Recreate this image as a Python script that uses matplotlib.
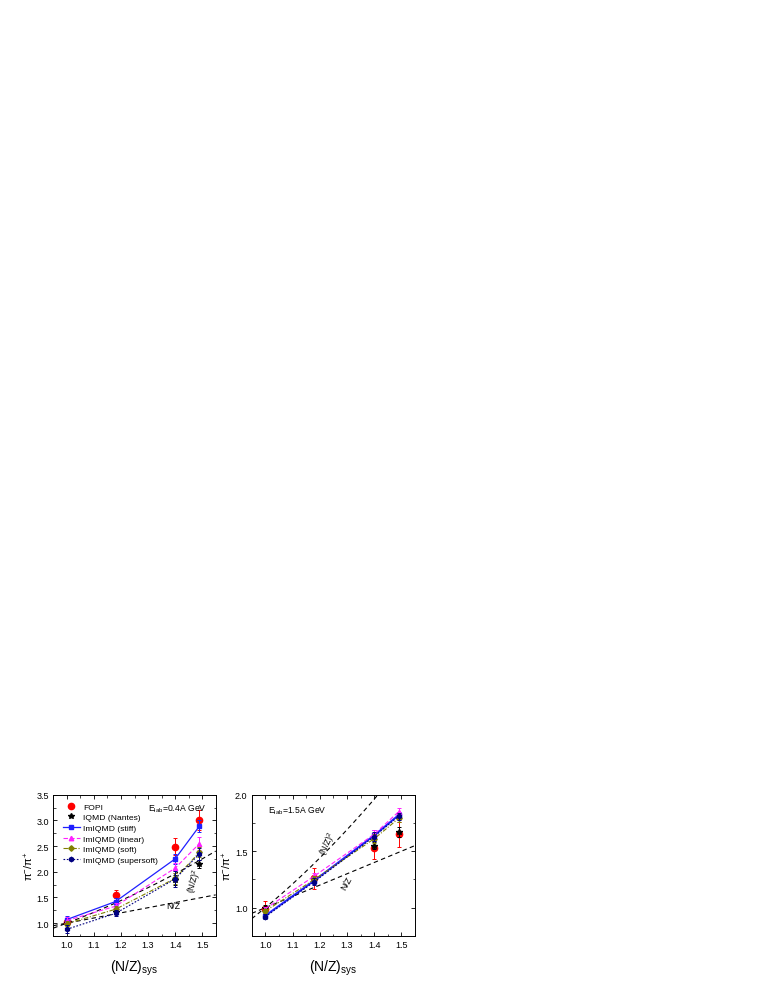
import matplotlib
matplotlib.use("Agg")
import matplotlib.pyplot as plt
import numpy as np
from matplotlib.ticker import MultipleLocator
from matplotlib.lines import Line2D

main_font = 'Liberation Sans'
plt.rcParams['font.family'] = [main_font, 'DejaVu Sans']
plt.rcParams['mathtext.fontset'] = 'custom'
plt.rcParams['mathtext.rm'] = main_font
plt.rcParams['mathtext.it'] = main_font + ':italic'
plt.rcParams['mathtext.default'] = 'regular'

# x positions: (N/Z)_sys of the systems
nz_sys = [1.0, 1.18, 1.4, 1.49]

# ---- E_lab = 0.4A GeV ----
fopi_04 = [1.03, 1.54, 2.49, 3.01]
fopi_04_err = [0.06, 0.10, 0.16, 0.20]
iqmd_04 = [1.00, 1.22, 1.84, 2.15]
iqmd_04_err = [0.04, 0.05, 0.10, 0.08]
stiff_04 = [1.07, 1.42, 2.25, 2.89]
stiff_04_err = [0.06, 0.06, 0.10, 0.12]
linear_04 = [1.05, 1.33, 2.07, 2.55]
linear_04_err = [0.06, 0.06, 0.10, 0.12]
soft_04 = [0.99, 1.27, 1.87, 2.38]
soft_04_err = [0.05, 0.06, 0.10, 0.10]
supersoft_04 = [0.88, 1.19, 1.86, 2.35]
supersoft_04_err = [0.08, 0.06, 0.15, 0.12]

# ---- E_lab = 1.5A GeV ----
fopi_15 = [0.99, 1.26, 1.53, 1.65]
fopi_15_err = [0.07, 0.09, 0.10, 0.11]
iqmd_15 = [1.00, 1.25, 1.55, 1.67]
iqmd_15_err = [0.02, 0.03, 0.03, 0.04]
stiff_15 = [0.93, 1.24, 1.64, 1.82]
stiff_15_err = [0.02, 0.03, 0.05, 0.03]
linear_15 = [0.99, 1.28, 1.65, 1.85]
linear_15_err = [0.02, 0.03, 0.04, 0.03]
soft_15 = [0.97, 1.25, 1.61, 1.79]
soft_15_err = [0.02, 0.03, 0.04, 0.03]
supersoft_15 = [0.92, 1.23, 1.63, 1.81]
supersoft_15_err = [0.02, 0.03, 0.04, 0.03]

labels = ['FOPI', 'IQMD (Nantes)', 'ImIQMD (stiff)', 'ImIQMD (linear)',
          'ImIQMD (soft)', 'ImIQMD (supersoft)']

fig = plt.figure(figsize=(7.63, 9.87), dpi=100)
ax1 = fig.add_axes([0.0699, 0.0507, 0.2128, 0.1431])
ax2 = fig.add_axes([0.3299, 0.0507, 0.2140, 0.1431])

OLIVE = '#808000'
NAVY = '#000080'
BLUE = '#1f1fff'
MAG = '#ff20ff'

styles = [
    dict(marker='o', ls='none', color='red', ms=4.5),
    dict(marker='*', ls='none', color='black', ms=3.8),
    dict(marker='s', ls='-', color=BLUE, ms=3),
    dict(marker='^', ls=(0, (4, 2)), color=MAG, ms=3.2),
    dict(marker='D', ls=(0, (4, 1.5, 1, 1.5)), color=OLIVE, ms=2.8),
    dict(marker='h', ls=(0, (1.5, 1.5)), color=NAVY, ms=3.2),
]
zorders = [3, 4, 5, 5, 5, 6]


def draw(ax, series, errs, lw_st):
    xr = np.linspace(0.95, 1.55, 200)
    ax.plot(xr, xr, ls=(0, (4, 3)), color='black', lw=0.8)
    ax.plot(xr, xr ** 2, ls=(0, (4, 3)), color='black', lw=0.8)
    for i, (ys, es) in enumerate(zip(series, errs)):
        st = dict(styles[i])
        lw = lw_st if i == 2 else 0.8
        ax.errorbar(nz_sys, ys, yerr=es, fmt='none', ecolor=st['color'],
                    elinewidth=0.7, capsize=1.2, capthick=0.7, zorder=zorders[i])
        ax.plot(nz_sys, ys, lw=lw, zorder=zorders[i], **st)
    ax.set_xlim(0.95, 1.55)
    ax.xaxis.set_major_locator(MultipleLocator(0.1))
    ax.xaxis.set_minor_locator(MultipleLocator(0.05))
    ax.tick_params(which='both', direction='in', top=True, right=True, labelsize=6.5, pad=3)
    ax.tick_params(which='major', length=3, width=0.6)
    ax.tick_params(which='minor', length=1.8, width=0.5)
    for s in ax.spines.values():
        s.set_linewidth(0.7)
    ax.set_xlabel(r'(N/Z)$_{\rm sys}$', fontsize=10, labelpad=6)
    ax.set_ylabel(r'π$^{-}$/π$^{+}$', fontsize=8, labelpad=0.5)


draw(ax1, [fopi_04, iqmd_04, stiff_04, linear_04, soft_04, supersoft_04],
     [fopi_04_err, iqmd_04_err, stiff_04_err, linear_04_err, soft_04_err, supersoft_04_err], 0.9)
ax1.set_ylim(0.75, 3.5)
ax1.yaxis.set_major_locator(MultipleLocator(0.5))
ax1.yaxis.set_minor_locator(MultipleLocator(0.25))
handles = [Line2D([], [], lw=(0.9 if i == 2 else 0.8), **styles[i]) for i in range(6)]
ax1.legend(handles=handles, labels=labels, loc='upper left', bbox_to_anchor=(0.02, 0.985),
           frameon=False, fontsize=6.1, handlelength=2.1, labelspacing=0.32,
           handletextpad=0.35, borderaxespad=0.3)
ax1.text(1.30, 3.24, r'E$_{\rm lab}$=0.4A GeV', fontsize=6.2, va='center', ha='left')
ax1.text(1.473, 1.83, r'(N/Z)$^{2}$', fontsize=6.2, rotation=75, ha='center', va='center')
ax1.text(1.393, 1.34, 'N/Z', fontsize=6.2, ha='center', va='center')

draw(ax2, [fopi_15, iqmd_15, stiff_15, linear_15, soft_15, supersoft_15],
     [fopi_15_err, iqmd_15_err, stiff_15_err, linear_15_err, soft_15_err, supersoft_15_err], 1.4)
ax2.set_ylim(0.75, 2.0)
ax2.yaxis.set_major_locator(MultipleLocator(0.5))
ax2.yaxis.set_minor_locator(MultipleLocator(0.25))
ax2.text(1.01, 1.87, r'E$_{\rm lab}$=1.5A GeV', fontsize=6.2, va='center', ha='left')
ax2.text(1.231, 1.575, r'(N/Z)$^{2}$', fontsize=6.2, rotation=65, ha='center', va='center')
ax2.text(1.299, 1.218, 'N/Z', fontsize=6.2, rotation=60, ha='center', va='center')

fig.savefig('out.png', dpi=100)
